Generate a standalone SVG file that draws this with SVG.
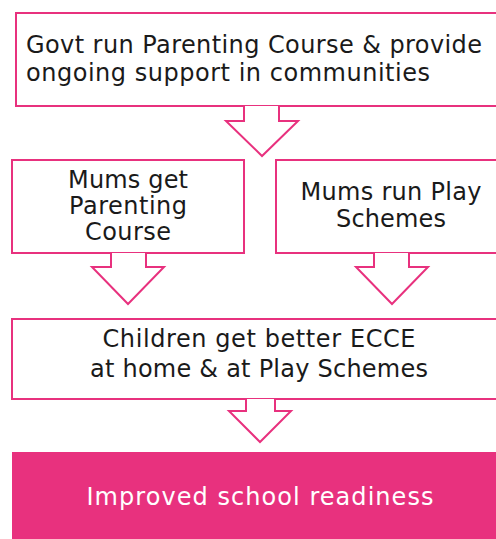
<svg xmlns="http://www.w3.org/2000/svg" width="496" height="539" viewBox="0 0 496 539">
<style>
.box{fill:#fff;stroke:#E8317E;stroke-width:2}
.arr{fill:#fff;stroke:#E8317E;stroke-width:2;stroke-linejoin:miter}
.t{font-family:"DejaVu Sans",sans-serif;font-size:24px;fill:#1a1a1a}
.c{text-anchor:middle}
.w{fill:#fff}
</style>
<rect x="0" y="0" width="496" height="539" fill="#fff"/>
<g id="n1">
<rect class="box" x="16" y="13" width="490" height="93"/>
<text class="t" x="26" y="53" textLength="456" lengthAdjust="spacing">Govt run Parenting Course &amp; provide</text>
<text class="t" x="26" y="81" textLength="404" lengthAdjust="spacing">ongoing support in communities</text>
</g>
<g id="n2">
<rect class="box" x="12" y="160" width="232" height="93"/>
<text class="t c" x="128" y="188" textLength="120" lengthAdjust="spacing">Mums get</text>
<text class="t c" x="128" y="214" textLength="118" lengthAdjust="spacing">Parenting</text>
<text class="t c" x="128" y="240" textLength="86" lengthAdjust="spacing">Course</text>
</g>
<g id="n3">
<rect class="box" x="276" y="160" width="230" height="93"/>
<text class="t c" x="391" y="200" textLength="181" lengthAdjust="spacing">Mums run Play</text>
<text class="t c" x="391" y="227" textLength="110" lengthAdjust="spacing">Schemes</text>
</g>
<g id="n4">
<rect class="box" x="12" y="319" width="494" height="80"/>
<text class="t c" x="259" y="347" textLength="313" lengthAdjust="spacing">Children get better ECCE</text>
<text class="t c" x="259" y="377" textLength="338" lengthAdjust="spacing">at home &amp; at Play Schemes</text>
</g>
<g id="n5">
<rect x="12" y="452" width="494" height="100" fill="#E8317E"/>
<text class="t c w" x="260" y="505" textLength="347" lengthAdjust="spacing">Improved school readiness</text>
</g>
<g id="connectors">
<path class="arr" d="M244,106 V121 H226 L262,156 L298,121 H279 V106"/>
<path class="arr" d="M111,253 V267 H92 L128,304 L164,267 H146 V253"/>
<path class="arr" d="M374,253 V267 H356 L392,304 L428,267 H409 V253"/>
<path class="arr" d="M246,399 V411 H229 L260,442 L291,411 H275 V399"/>
</g>
</svg>
